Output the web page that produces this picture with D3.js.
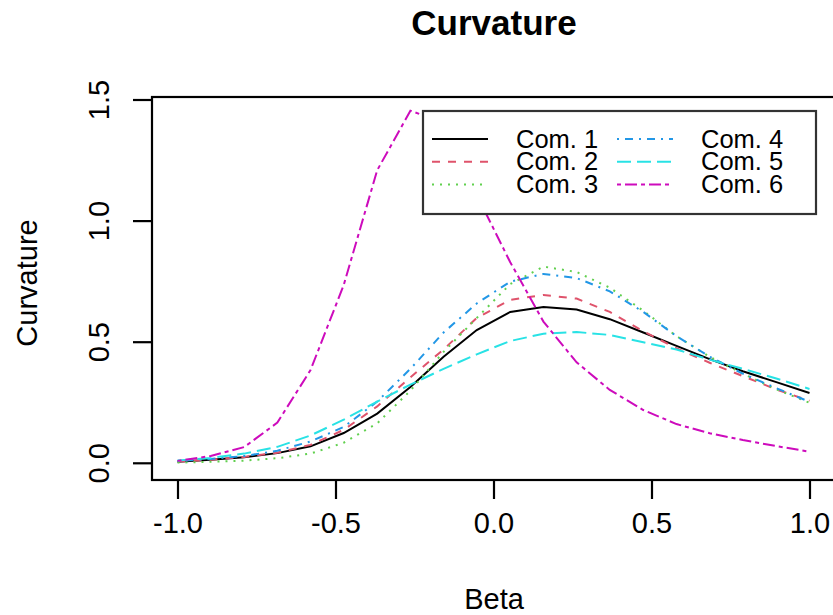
<!DOCTYPE html>
<html>
<head>
<meta charset="utf-8">
<script src="https://cdn.jsdelivr.net/npm/d3@7"></script>
<style>
  body { margin: 0; background: #fff; }
  text { font-family: 'Liberation Sans', Arial, Helvetica, sans-serif; fill: #000; }
</style>
</head>
<body>
<svg id="chart" width="833" height="615"></svg>
<script>
// beta grid (20 points from -1 to 1)
const beta = [-1.0, -0.895, -0.789, -0.684, -0.579, -0.474, -0.368, -0.263, -0.158, -0.053,
  0.053, 0.158, 0.263, 0.368, 0.474, 0.579, 0.684, 0.789, 0.895, 1.0]

const com1 = [0.006, 0.015, 0.025, 0.042, 0.07, 0.125, 0.205, 0.315, 0.44, 0.55,
  0.625, 0.645, 0.635, 0.595, 0.54, 0.485, 0.43, 0.38, 0.335, 0.29]
const com2 = [0.007, 0.015, 0.026, 0.044, 0.076, 0.138, 0.235, 0.355, 0.47, 0.6,
  0.675, 0.695, 0.68, 0.625, 0.545, 0.475, 0.415, 0.36, 0.305, 0.258]
const com3 = [0.003, 0.006, 0.011, 0.021, 0.04, 0.085, 0.165, 0.3, 0.46, 0.6,
  0.74, 0.812, 0.79, 0.725, 0.63, 0.525, 0.44, 0.37, 0.305, 0.25]
const com4 = [0.01, 0.018, 0.03, 0.052, 0.09, 0.15, 0.255, 0.39, 0.54, 0.66,
  0.75, 0.782, 0.765, 0.71, 0.625, 0.525, 0.44, 0.37, 0.31, 0.254]
const com5 = [0.012, 0.022, 0.04, 0.068, 0.115, 0.18, 0.255, 0.325, 0.39, 0.45,
  0.505, 0.535, 0.542, 0.53, 0.5, 0.47, 0.428, 0.39, 0.35, 0.307]
const com6 = [0.01, 0.03, 0.067, 0.168, 0.385, 0.736, 1.21, 1.456, 1.405, 1.108,
  0.83, 0.585, 0.417, 0.303, 0.22, 0.162, 0.124, 0.096, 0.071, 0.048]

const seriesNames = ['Com. 1', 'Com. 2', 'Com. 3', 'Com. 4', 'Com. 5', 'Com. 6']
const seriesValues = [com1, com2, com3, com4, com5, com6]
const xTicks = [-1, -0.5, 0, 0.5, 1]
const yTicks = [0, 0.5, 1, 1.5]

// R default palette + lty 1..6
const colors = ['#000000', '#DF536B', '#61D04F', '#2297E6', '#28E2E5', '#CD0BBC']
const dashes = [null, '8,8', '2,6', '2,6,8,6', '14,6', '4,4,12,4']

const box = { left: 152, right: 836, top: 97, bottom: 480 }

const svg = d3.select('#chart')

const xPositionScale = d3.scaleLinear().domain([-1, 1]).range([177.5, 809.5])
const yPositionScale = d3.scaleLinear().domain([0, 1.5]).range([463.3, 100])

svg.append('clipPath')
  .attr('id', 'clip')
  .append('rect')
  .attr('x', box.left)
  .attr('y', box.top)
  .attr('width', box.right - box.left)
  .attr('height', box.bottom - box.top)

const line = d3.line()
  .x((d, i) => xPositionScale(beta[i]))
  .y(d => yPositionScale(d))

svg.append('g')
  .attr('clip-path', 'url(#clip)')
  .selectAll('.curve')
  .data(seriesValues)
  .enter()
  .append('path')
  .attr('class', 'curve')
  .attr('d', d => line(d))
  .attr('fill', 'none')
  .attr('stroke', (d, i) => colors[i])
  .attr('stroke-width', 2)
  .attr('stroke-dasharray', (d, i) => dashes[i])

// plot box
svg.append('rect')
  .attr('x', box.left)
  .attr('y', box.top)
  .attr('width', box.right - box.left)
  .attr('height', box.bottom - box.top)
  .attr('fill', 'none')
  .attr('stroke', '#000')
  .attr('stroke-width', 2.2)

// axes
const xAxis = d3.axisBottom(xPositionScale)
  .tickValues(xTicks)
  .tickFormat(d => d.toFixed(1))
  .tickSize(19)
  .tickPadding(13)

const xg = svg.append('g')
  .attr('transform', 'translate(0,' + box.bottom + ')')
  .call(xAxis)
xg.select('.domain').remove()
xg.selectAll('line').attr('stroke', '#000').attr('stroke-width', 2.2)
xg.selectAll('text')
  .attr('font-size', 29)
  .attr('fill', '#000')
  .style('font-family', "'Liberation Sans', Arial, sans-serif")

const yAxis = d3.axisLeft(yPositionScale)
  .tickValues(yTicks)
  .tickFormat(d => d.toFixed(1))
  .tickSize(19)

const yg = svg.append('g')
  .attr('transform', 'translate(' + box.left + ',0)')
  .call(yAxis)
yg.select('.domain').remove()
yg.selectAll('line').attr('stroke', '#000').attr('stroke-width', 2.2)
yg.selectAll('text')
  .attr('x', null)
  .attr('dy', null)
  .attr('transform', d => 'translate(-43,' + yPositionScale(d) + ') rotate(-90)')
  .attr('y', 0)
  .attr('text-anchor', 'middle')
  .attr('font-size', 29)
  .attr('fill', '#000')
  .style('font-family', "'Liberation Sans', Arial, sans-serif")
yg.selectAll('.tick').attr('transform', null)
yg.selectAll('.tick line')
  .attr('y1', d => yPositionScale(d))
  .attr('y2', d => yPositionScale(d))

// titles
svg.append('text')
  .text('Curvature')
  .attr('x', 494)
  .attr('y', 35)
  .attr('text-anchor', 'middle')
  .attr('font-size', 35)
  .attr('font-weight', 'bold')

svg.append('text')
  .text('Beta')
  .attr('x', 494)
  .attr('y', 609)
  .attr('text-anchor', 'middle')
  .attr('font-size', 29)

svg.append('text')
  .text('Curvature')
  .attr('transform', 'translate(37,283) rotate(-90)')
  .attr('text-anchor', 'middle')
  .attr('font-size', 29)

// legend
const legend = svg.append('g')
legend.append('rect')
  .attr('x', 423)
  .attr('y', 111)
  .attr('width', 393)
  .attr('height', 103)
  .attr('fill', '#fff')
  .attr('stroke', '#333')
  .attr('stroke-width', 2.2)

const items = legend.selectAll('.item')
  .data(seriesNames)
  .enter()
  .append('g')
  .attr('class', 'item')
  .attr('transform', (d, i) => 'translate(' + (i < 3 ? 432 : 617) + ',' + (139 + (i % 3) * 22.7) + ')')

items.append('line')
  .attr('x1', 0)
  .attr('x2', 56)
  .attr('stroke', (d, i) => colors[i])
  .attr('stroke-width', 2)
  .attr('stroke-dasharray', (d, i) => dashes[i])

items.append('text')
  .text(d => d)
  .attr('x', 84)
  .attr('y', 8.5)
  .attr('font-size', 25.5)
</script>
</body>
</html>
